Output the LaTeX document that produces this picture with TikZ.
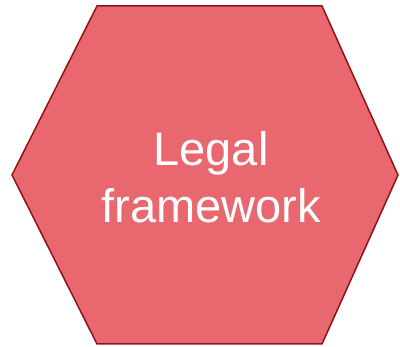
\documentclass[tikz,border=0pt]{standalone}
\usepackage{fontspec}
\setmainfont{Liberation Sans}
\usepackage[dvipsnames,svgnames]{xcolor}
\definecolor{hexfill}{HTML}{E9686F}
\definecolor{hexline}{HTML}{8E1418}
\tikzset{hexcell/.style={fill=hexfill,draw=hexline,line width=1.5pt,line join=miter}}
\tikzset{hexlabel/.style={text=white,align=center,font=\fontsize{47}{57}\selectfont}}

\begin{document}
\begin{tikzpicture}[x=1pt,y=-1pt]
    \useasboundingbox (0,0) rectangle (400,347); % 画布大小
    \coordinate (tl) at (97,6);
    \coordinate (tr) at (322,6);
    \coordinate (r) at (398,175);
    \coordinate (br) at (322,344);
    \coordinate (bl) at (97,344);
    \coordinate (l) at (12,175);
    \draw[hexcell] (tl)--(tr)--(r)--(br)--(bl)--(l)--cycle;
    \node[hexlabel] (legal) at (211,177) {Legal\\framework};
\end{tikzpicture}
\end{document}
